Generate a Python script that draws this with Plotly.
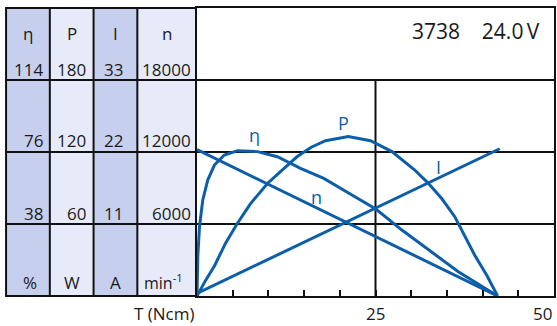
import plotly.graph_objects as go

# ---- data ----
T_eta = [0, 0.05, 0.11, 0.35, 0.81, 1.5, 2.44, 3.83, 5.68, 8.47, 11.25, 14.5, 17.76, 21.7, 25.04, 28.7, 32.4, 36.6, 42.1]
eta = [0, 10, 20.7, 36.6, 50.7, 61.2, 69.1, 74.4, 76.7, 76.2, 73.5, 67.4, 62.1, 53.3, 45.9, 34.8, 24.3, 12.8, 0]

T_P = [0, 1.2, 2.44, 4, 5.6, 7.5, 9.9, 12.9, 14.0, 16, 18, 21.2, 24.3, 27.3, 30.5, 32.4, 34.3, 36.1, 38.9, 40.6, 42.1]
P = [0, 13, 25, 44, 60, 77, 94, 110, 116, 124, 129.4, 132.8, 129.4, 120.3, 105, 93.9, 81, 66.1, 34, 17, 0]

T_I = [0, 42.4]
I = [0.4, 22.5]

T_n = [0, 42.1]
n = [12200, 0]

col_heads = ["η", "P", "I", "n"]
row_vals = [["114", "180", "33", "18000"],
            ["76", "120", "22", "12000"],
            ["38", "60", "11", "6000"]]
units = ["%", "W", "A", "min<sup>-1</sup>"]
x_ticks_lab = {25: "25", 50: "50"}
title_txt = "3738\u00a0\u00a0\u00a0\u00a024.0\u2009V"

BLUE = "#0d5ea8"
DARK = "#c6d0ee"
LIGHT = "#e7ebf9"
LINE = "#111111"
FONT = "Open Sans"

W, H = 557, 326
L, R, Tm, B = 197, 1, 8, 30
pw = W - L - R
ph = H - Tm - B

def px_to_paper_x(px):
    return (px - L) / pw

def py_to_paper_y(py):
    return (H - B - py) / ph

fig = go.Figure()
lw = 3
fig.add_trace(go.Scatter(x=T_n, y=n, mode="lines", line=dict(color=BLUE, width=lw), yaxis="y"))
fig.add_trace(go.Scatter(x=T_eta, y=eta, mode="lines", line=dict(color=BLUE, width=lw), yaxis="y2"))
fig.add_trace(go.Scatter(x=T_P, y=P, mode="lines", line=dict(color=BLUE, width=lw), yaxis="y3"))
fig.add_trace(go.Scatter(x=T_I, y=I, mode="lines", line=dict(color=BLUE, width=lw), yaxis="y4"))

shapes = []
# table columns
col_edges = [5, 49, 93, 137, 197]
fills = [DARK, LIGHT, DARK, LIGHT]
for i in range(4):
    shapes.append(dict(type="rect", xref="paper", yref="paper",
                       x0=px_to_paper_x(col_edges[i]), x1=px_to_paper_x(col_edges[i + 1]),
                       y0=0, y1=1, fillcolor=fills[i], line=dict(width=0), layer="below"))
for e in col_edges[:-1]:
    shapes.append(dict(type="line", xref="paper", yref="paper",
                       x0=px_to_paper_x(e), x1=px_to_paper_x(e), y0=0, y1=1,
                       line=dict(color=LINE, width=2)))
for k in range(5):
    shapes.append(dict(type="line", xref="paper", yref="paper",
                       x0=px_to_paper_x(4), x1=0, y0=k / 4, y1=k / 4,
                       line=dict(color=LINE, width=2)))
# vertical grid at T=25 (below header box)
shapes.append(dict(type="line", xref="x", yref="y", x0=25, x1=25, y0=0, y1=18000,
                   line=dict(color=LINE, width=2), layer="below"))

ann = []
tf = dict(family=FONT, size=17, color="#1a1a1a")
centers = [27, 71, 115, 167]
rights = [44, 87, 125, 193]
for i, h in enumerate(col_heads):
    ann.append(dict(text=h, xref="paper", yref="paper", x=px_to_paper_x(centers[i]),
                    y=py_to_paper_y(33), xanchor="center", yanchor="middle",
                    showarrow=False, font=tf))
row_y = [69, 140, 213]
for r, vals in enumerate(row_vals):
    for i, v in enumerate(vals):
        ann.append(dict(text=v, xref="paper", yref="paper", x=px_to_paper_x(rights[i]),
                        y=py_to_paper_y(row_y[r]), xanchor="right", yanchor="middle",
                        showarrow=False, font=tf))
for i, u in enumerate(units):
    ann.append(dict(text=u, xref="paper", yref="paper", x=px_to_paper_x(centers[i] + (-4 if i == 3 else 2 if i == 0 else 0)),
                    y=py_to_paper_y(282), xanchor="center", yanchor="middle",
                    showarrow=False, font=dict(family=FONT, size=16 if i == 3 else 17, color="#1a1a1a")))
# title
ann.append(dict(text=title_txt, xref="paper", yref="paper", x=px_to_paper_x(544),
                y=py_to_paper_y(31), xanchor="right", yanchor="middle", showarrow=False,
                font=dict(family=FONT, size=21, color="#1a1a1a")))
# x axis labels
ann.append(dict(text="T (Ncm)", xref="paper", yref="paper", x=0, y=py_to_paper_y(313),
                xanchor="right", yanchor="middle", showarrow=False, font=tf))
for v, t in x_ticks_lab.items():
    ann.append(dict(text=t, xref="x", yref="paper", x=v, y=py_to_paper_y(313),
                    xanchor="right" if v == 50 else "center", yanchor="middle",
                    showarrow=False, font=tf))
# curve labels
cl = dict(family=FONT, size=18, color=BLUE)
for txt, xv, yv in [("η", 8.0, 13400), ("P", 20.5, 14400), ("n", 16.8, 8250), ("I", 33.8, 10750)]:
    ann.append(dict(text=txt, xref="x", yref="y", x=xv, y=yv, xanchor="center",
                    yanchor="middle", showarrow=False, font=cl))

axline = dict(showline=True, mirror=True, linecolor=LINE, linewidth=2)
fig.update_layout(
    width=W, height=H, margin=dict(l=L, r=R, t=Tm, b=B, pad=0),
    paper_bgcolor="white", plot_bgcolor="white", showlegend=False,
    xaxis=dict(range=[0, 50], tickvals=[5, 10, 15, 20, 25, 30, 35, 40, 45],
               ticks="inside", ticklen=6, tickwidth=2, tickcolor=LINE,
               showticklabels=False, showgrid=False, zeroline=False, **axline),
    yaxis=dict(range=[0, 24000], dtick=6000, showgrid=True, gridcolor=LINE, gridwidth=2,
               showticklabels=False, ticks="", zeroline=False, **axline),
    yaxis2=dict(range=[0, 152], overlaying="y", visible=False),
    yaxis3=dict(range=[0, 240], overlaying="y", visible=False),
    yaxis4=dict(range=[0, 44], overlaying="y", visible=False),
    shapes=shapes, annotations=ann,
)
fig.write_html("out.html", config={"displayModeBar": False},
               post_script="document.body.style.margin='0';document.body.style.overflow='hidden';")
